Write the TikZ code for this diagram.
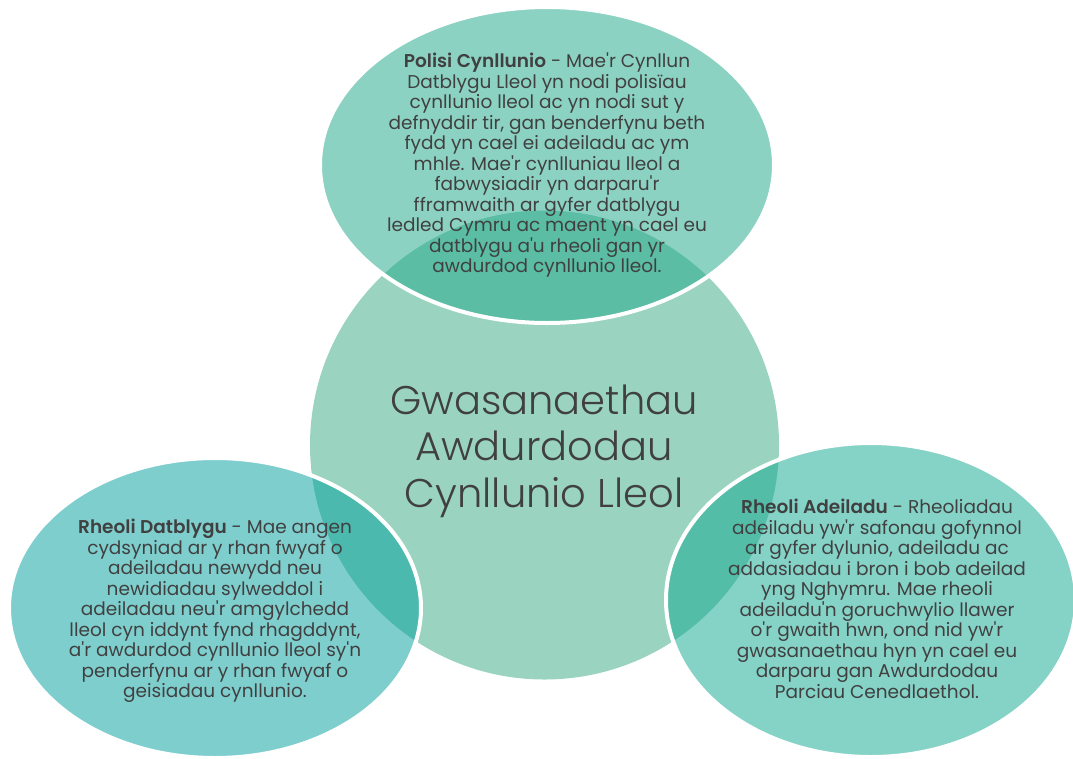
\documentclass[tikz,border=0pt]{standalone}
\usepackage{fontspec}
\setmainfont{Poppins}[BoldFont={* SemiBold}, Ligatures=TeXOff]
\newfontfamily\titlefont{Poppins Light}
\definecolor{ink}{HTML}{404040}
\definecolor{core}{RGB}{154,212,193}
\definecolor{toptint}{RGB}{27,167,137}
\definecolor{lefttint}{RGB}{0,159,159}
\definecolor{righttint}{RGB}{13,167,145}
\tikzset{
  bubble/.style={draw=white, line width=4pt, fill opacity=0.5, draw opacity=1},
  blurb/.style={align=center, text=ink, font=\fontsize{18.5}{20.5}\selectfont, inner sep=0pt, anchor=north}
}
\begin{document}
\begin{tikzpicture}[x=1pt,y=-1pt]
	\fill[white] (0,0) rectangle (1073,758);
	\useasboundingbox (0,0) rectangle (1073,758);
	\fill[core] (544.5,445) circle (234.5pt);
	\filldraw[bubble, fill=toptint] (547,165) ellipse [x radius=227pt, y radius=158pt];
	\filldraw[bubble, fill=lefttint] (215,608) ellipse [x radius=206pt, y radius=150pt];
	\filldraw[bubble, fill=righttint] (871,600) ellipse [x radius=205pt, y radius=157pt];
	\node[align=center, text=ink, font=\titlefont\fontsize{40}{46.5}\selectfont, inner sep=0pt] (core) at (544,451) {Gwasanaethau\\Awdurdodau\\Cynllunio Lleol};
	\node[blurb] (policy) at (547,53) {\textbf{Polisi Cynllunio} - Mae'r Cynllun\\Datblygu Lleol yn nodi polisïau\\cynllunio lleol ac yn nodi sut y\\defnyddir tir, gan benderfynu beth\\fydd yn cael ei adeiladu ac ym\\mhle. Mae'r cynlluniau lleol a\\fabwysiadir yn darparu'r\\fframwaith ar gyfer datblygu\\ledled Cymru ac maent yn cael eu\\datblygu a'u rheoli gan yr\\awdurdod cynllunio lleol.};
	\node[blurb] (devcontrol) at (215,519) {\textbf{Rheoli Datblygu} - Mae angen\\cydsyniad ar y rhan fwyaf o\\adeiladau newydd neu\\newidiadau sylweddol i\\adeiladau neu'r amgylchedd\\lleol cyn iddynt fynd rhagddynt,\\a'r awdurdod cynllunio lleol sy'n\\penderfynu ar y rhan fwyaf o\\geisiadau cynllunio.};
	\node[blurb] (buildcontrol) at (877,499) {\textbf{Rheoli Adeiladu} - Rheoliadau\\adeiladu yw'r safonau gofynnol\\ar gyfer dylunio, adeiladu ac\\addasiadau i bron i bob adeilad\\yng Nghymru. Mae rheoli\\adeiladu'n goruchwylio llawer\\o'r gwaith hwn, ond nid yw'r\\gwasanaethau hyn yn cael eu\\darparu gan Awdurdodau\\Parciau Cenedlaethol.};
\end{tikzpicture}
\end{document}
